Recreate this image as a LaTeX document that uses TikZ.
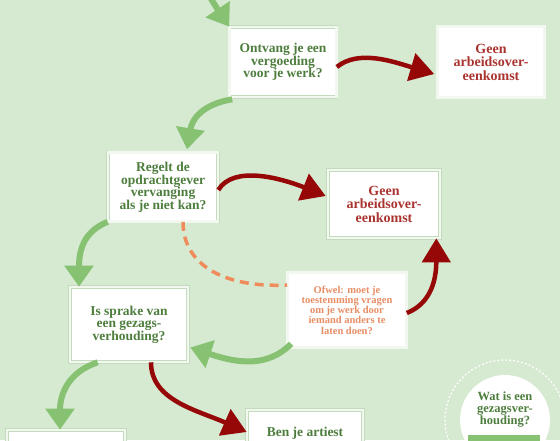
\documentclass[tikz,border=0pt]{standalone}
\usepackage{fontspec}
\setmainfont{Liberation Serif}
\usetikzlibrary{arrows.meta}
\definecolor{meadow}{RGB}{214, 233, 209}
\definecolor{fernline}{RGB}{196, 220, 190}
\definecolor{paleband}{RGB}{242, 248, 240}
\definecolor{mossgreen}{RGB}{78, 126, 62}
\definecolor{wine}{RGB}{170, 52, 48}
\definecolor{apricot}{RGB}{232, 142, 102}
\definecolor{leaf}{RGB}{134, 194, 114}
\definecolor{crimson}{RGB}{150, 8, 8}
\definecolor{coral}{RGB}{240, 140, 92}

\tikzset{
  qbox/.style={fill=white, draw=fernline, line width=0.6pt, double=paleband,
               double distance=2.4pt, align=center, inner sep=0pt},
  asktext/.style={text=mossgreen, align=center, font=\bfseries\fontsize{13.5}{12.5}\selectfont},
  notext/.style={text=wine, align=center, font=\bfseries\fontsize{14}{13.5}\selectfont},
  ortext/.style={text=apricot, align=center, font=\bfseries\fontsize{10.5}{10.3}\selectfont},
  garrow/.style={draw=leaf, line width=6pt, -{Triangle[length=21pt,width=28pt]}},
  rarrow/.style={draw=crimson, line width=4.5pt, -{Triangle[length=24pt,width=28pt]}},
  dashline/.style={draw=coral, line width=3.5pt, dash pattern=on 9pt off 6pt}
}

\begin{document}
\begin{tikzpicture}[x=1pt, y=-1pt]
            \useasboundingbox (0,0) rectangle (560,440);
            \clip (0,0) rectangle (560,440);
            \fill[meadow] (0,0) rectangle (560,440);

            % vragen en uitkomsten
            \node[qbox, asktext, minimum width=107pt, minimum height=70pt] (vergoeding)  at (283,62)    {Ontvang je een\\vergoeding\\voor je werk?};
            \node[qbox, notext,  minimum width=107pt, minimum height=71pt] (geenA)       at (491,62)    {Geen\\arbeidsover-\\eenkomst};
            \node[qbox, asktext, minimum width=110pt, minimum height=69pt] (vervanging)  at (163,187)   {Regelt de\\opdrachtgever\\vervanging\\als je niet kan?};
            \node[qbox, notext,  minimum width=112pt, minimum height=68pt] (geenB)       at (384,204)   {Geen\\arbeidsover-\\eenkomst};
            \node[qbox, ortext,  minimum width=119pt, minimum height=75pt] (toestemming) at (347,310)   {Ofwel: moet je\\toestemming vragen\\om je werk door\\iemand anders te\\laten doen?};
            \node[qbox, asktext, minimum width=118pt, minimum height=75pt] (gezag)       at (129,324.5) {Is sprake van\\een gezags-\\verhouding?};
            \node[qbox,          minimum width=118pt, minimum height=76pt] (links)       at (66,468)    {};
            \node[qbox,          minimum width=116pt, minimum height=76pt] (artiest)     at (305,448)   {};
            \node[asktext] (artiestvraag) at (305,433) {Ben je artiest};

            % uitleg rechtsonder
            \node[circle, draw=white, line width=1.2pt, dash pattern=on 2pt off 2pt, minimum size=120pt] (watisrand) at (505,420) {};
            \node[circle, fill=white, minimum size=90pt] (watis) at (watisrand.center) {};
            \node[asktext, font=\bfseries\fontsize{12.5}{12}\selectfont] (watistekst) at (505,410) {Wat is een\\gezagsver-\\houding?};
            \fill[leaf] (468,435) rectangle (540,462);

            % pijlen
            \coordinate (instroom) at (195,-30);
            \draw[garrow]   (instroom) .. controls +(10,20) and +(-12,-18) .. (vergoeding.north west);
            \draw[rarrow]   ([yshift=-5pt]vergoeding.east) .. controls +(22,-18) and +(-40,-12) .. ([xshift=-3pt,yshift=-12pt]geenA.west);
            \draw[garrow]   ([xshift=3pt,yshift=-2pt]vergoeding.south west) .. controls +(-30,5) and +(5,-30) .. ([xshift=24pt,yshift=3pt]vervanging.north);
            \draw[rarrow]   ([yshift=-3pt]vervanging.east) .. controls +(15,-25) and +(-45,-18) .. ([xshift=-2pt,yshift=8pt]geenB.west);
            \draw[dashline] ([xshift=20pt]vervanging.south) .. controls +(0,45) and +(-60,3) .. ([yshift=25pt]toestemming.west);
            \draw[rarrow]   ([yshift=-3pt]toestemming.east) .. controls +(25,-10) and +(0,40) .. ([xshift=-4pt]geenB.south east);
            \draw[garrow]   ([xshift=4pt,yshift=4pt]toestemming.south west) .. controls +(-25,25) and +(45,15) .. ([xshift=2pt,yshift=-23pt]gezag.east);
            \draw[garrow]   (vervanging.south west) .. controls +(-25,10) and +(0,-35) .. ([xshift=-50pt]gezag.north);
            \draw[garrow]   ([xshift=28pt]gezag.south west) .. controls +(-30,10) and +(0,-35) .. ([xshift=-6pt]links.north);
            \draw[rarrow]   ([xshift=22pt]gezag.south) .. controls +(0,38) and +(-50,-22) .. ([yshift=16pt]artiest.west);
\end{tikzpicture}
\end{document}
